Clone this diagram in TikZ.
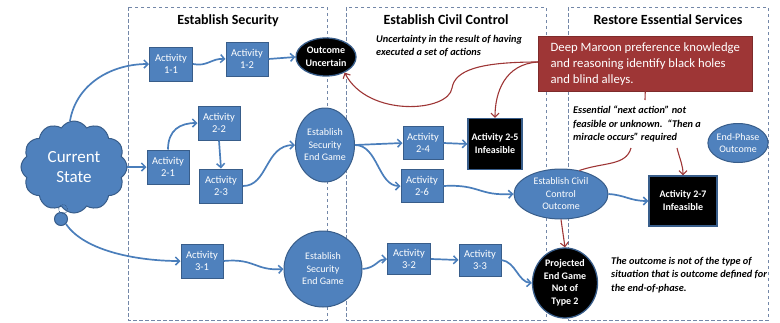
\documentclass[tikz,border=0pt]{standalone}
\usepackage{fontspec}
\setmainfont{Carlito}
\usetikzlibrary{arrows.meta,shapes.geometric,shapes.symbols}
\definecolor{actfill}{RGB}{79,129,189}
\definecolor{actborder}{RGB}{56,93,138}
\definecolor{conblue}{RGB}{74,126,187}
\definecolor{maroon}{RGB}{158,54,54}
\definecolor{panel}{RGB}{115,135,168}
\begin{document}
\begin{tikzpicture}[x=1pt,y=-1pt,
  act/.style={draw=actborder, fill=actfill, line width=1pt, text=white,
    font=\fontsize{10.5}{12}\selectfont, align=center, minimum width=42pt,
    minimum height=34pt, inner sep=1pt},
  blkbox/.style={draw=actborder, fill=black, line width=1.3pt, text=white,
    font=\bfseries\fontsize{10}{13}\selectfont, align=center, inner sep=1pt},
  blkell/.style={ellipse, draw=actborder, fill=black, line width=1.3pt, text=white,
    font=\bfseries\fontsize{10}{12.5}\selectfont, align=center, inner sep=0pt},
  bellipse/.style={ellipse, draw=actborder, fill=actfill, line width=1pt, text=white,
    font=\fontsize{10}{12.5}\selectfont, align=center, inner sep=0pt},
  bl/.style={draw=conblue, line width=1.7pt, -{Straight Barb[length=4pt,width=8pt,line width=1.5pt]}},
  rd/.style={draw=maroon, line width=1.1pt, -{Straight Barb[length=4pt,width=8pt,line width=1.1pt]}},
  rdplain/.style={draw=maroon, line width=1.1pt},
  panelbox/.style={draw=panel, line width=0.9pt, dash pattern=on 3.5pt off 2.5pt},
  ptitle/.style={font=\bfseries\fontsize{14}{16}\selectfont},
  note/.style={font=\bfseries\itshape\fontsize{10.3}{13.3}\selectfont, align=left, inner sep=0pt}
]
\useasboundingbox (0,0) rectangle (780,322);

% panels
\draw[panelbox] (128,7) rectangle (327,320);
\draw[panelbox] (346,7) rectangle (546,320);
\draw[panelbox] (568,7) rectangle (768,320);
\node[ptitle] (t1) at (228,21) {Establish Security};
\node[ptitle] (t2) at (446,20) {Establish Civil Control};
\node[ptitle] (t3) at (668,20) {Restore Essential Services};

% current state cloud
\node[cloud, cloud puffs=12, cloud puff arc=115, aspect=1.1, draw=actborder, fill=actfill,
  line width=1pt, text=white, font=\fontsize{17}{20}\selectfont, align=center,
  minimum width=106pt, minimum height=92pt, inner sep=0pt] (cs) at (74,167) {Current\\State};
\node[circle, draw=actborder, fill=actfill, line width=1pt, minimum size=13pt, inner sep=0pt] (cs2) at (61,219) {};
\node[circle, draw=actborder, densely dotted, line width=0.8pt, minimum size=9pt, inner sep=0pt] (cs3) at (63,209) {};

% row 1
\node[act, minimum width=43pt] (a11) at (171,64) {Activity\\1-1};
\node[act] (a12) at (247,59) {Activity\\1-2};
\node[blkell, minimum width=60pt, minimum height=38pt] (ou) at (326,57) {Outcome\\Uncertain};

% row 2
\node[act] (a21) at (168,167) {Activity\\2-1};
\node[act] (a22) at (219,123) {Activity\\2-2};
\node[act, minimum width=43pt] (a23) at (221,186) {Activity\\2-3};
\node[bellipse, minimum width=59pt, minimum height=74pt] (es1) at (325,145) {Establish\\Security\\End Game};
\node[act, minimum width=40pt, minimum height=33pt] (a24) at (423,143) {Activity\\2-4};
\node[blkbox, minimum width=54pt, minimum height=51pt] (a25) at (495,144) {Activity 2-5\\Infeasible};
\node[act, minimum width=42pt, minimum height=33pt] (a26) at (422,186) {Activity\\2-6};
\node[bellipse, minimum width=94pt, minimum height=50pt] (cco) at (561,194) {Establish Civil\\Control\\Outcome};
\node[blkbox, minimum width=68pt, minimum height=50pt] (a27) at (683,201) {Activity 2-7\\Infeasible};
\node[bellipse, minimum width=54pt, minimum height=39pt] (epo) at (738,143) {End-Phase\\Outcome};

% row 3
\node[act] (a31) at (202,261) {Activity\\3-1};
\node[bellipse, minimum width=78pt, minimum height=76pt] (es2) at (323,269) {Establish\\Security\\End Game};
\node[act, minimum width=43pt, minimum height=31pt] (a32) at (409,259) {Activity\\3-2};
\node[act, minimum width=42pt, minimum height=32pt] (a33) at (480,260) {Activity\\3-3};
\node[blkell, minimum width=65pt, minimum height=70pt] (pe) at (565,283) {Projected\\End Game\\Not of\\Type 2};

% maroon box
\node[fill=maroon, draw=maroon!80!black, line width=0.5pt, text=white, anchor=north west,
  minimum width=214pt, minimum height=55pt, inner xsep=7pt, align=left,
  font=\fontsize{12.7}{16}\selectfont] (mb) at (538,36)
  {Deep Maroon preference knowledge\\and reasoning identify black holes\\and blind alleys.};

% notes
\node[note, anchor=north west] (n1) at (376,35) {Uncertainty in the result of having\\executed a set of actions};
\node[note, anchor=north west] (n2) at (573,106) {Essential ``next action'' not\\feasible or unknown.\ \ ``Then a\\miracle occurs'' required};
\node[note, anchor=north west] (n3) at (611,257) {The outcome is not of the type of\\situation that is outcome defined for\\the end-of-phase.};

\coordinate (mbstub) at (645,100);
\coordinate (essl) at (631,148);
\coordinate (essr) at (677,148);

% blue connectors
\draw[bl] (cs.95) .. controls (76,85) and (110,64) .. (a11.west);
\draw[bl] (a11.east) .. controls (207,67) and (212,58) .. (a12.west);
\draw[bl] (a12.east) -- (ou.west);
\draw[bl] (cs.east) -- (a21.west);
\draw[bl] (a21.north) .. controls (168,130) and (180,123) .. (a22.west);
\draw[bl] (a22.south) -- (a23.north);
\draw[bl] (a23.east) .. controls (268,186) and (265,145) .. (es1.west);
\draw[bl] (es1.east) -- (a24.west);
\draw[bl] (es1.east) .. controls (378,145) and (378,186) .. (a26.west);
\draw[bl] (a24.east) -- (a25.west);
\draw[bl] (a26.east) .. controls (480,184) and (478,196) .. (cco.west);
\draw[bl] (cco.east) .. controls (625,195) and (630,201) .. (a27.west);
\draw[bl] (cs2.south east) .. controls (85,252) and (140,261) .. (a31.west);
\draw[bl] (a31.east) .. controls (255,258) and (255,271) .. (es2.west);
\draw[bl] (es2.east) .. controls (376,268) and (378,259) .. (a32.west);
\draw[bl] (a32.east) -- (a33.west);
\draw[bl] (a33.east) .. controls (516,262) and (518,282) .. (pe.west);

% maroon connectors
\draw[rd] (mb.west |- 0,62) .. controls (480,62) and (455,70) .. (452,88)
  .. controls (449,112) and (368,118) .. (ou.-40);
\draw[rd] (mb.west |- 0,62) .. controls (505,64) and (495,92) .. (a25.north);
\draw[rdplain] (mb.south) -- (mbstub);
\draw[rdplain] (essl) .. controls (626,166) and (604,162) .. (cco.52);
\draw[rd] (essr) .. controls (680,160) and (683,165) .. (a27.north);
\draw[rd] (cco.south) -- (pe.north);
\end{tikzpicture}
\end{document}
